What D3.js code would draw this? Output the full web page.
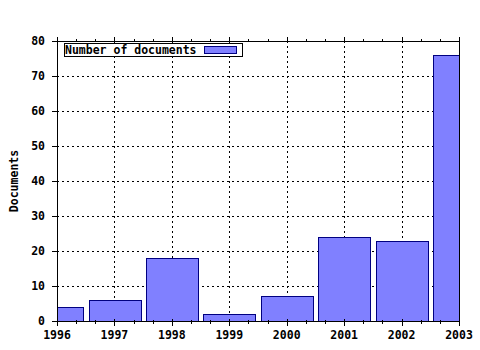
<!DOCTYPE html>
<html><head><meta charset="utf-8">
<script src="https://cdn.jsdelivr.net/npm/d3@7"></script>
<style>
body{margin:0;background:#fff;}
text{font-family:"DejaVu Sans Mono",monospace;font-weight:bold;font-size:11.5px;fill:#000;}
</style></head><body>
<svg id="c" width="480" height="350"></svg>
<script>
const years = [1996, 1997, 1998, 1999, 2000, 2001, 2002, 2003];
const documents = [4, 6, 18, 2, 7, 24, 23, 76];
const yTicks = [0, 10, 20, 30, 40, 50, 60, 70, 80];
const seriesName = "Number of documents";
const yTitle = "Documents";

const svg = d3.select("#c");
const L = 57, R = 459, T = 41, B = 321;
const x = d3.scaleLinear().domain([1996, 2003]).range([L, R]);
const y = d3.scaleLinear().domain([0, 80]).range([B, T]);
const step = x(1997) - x(1996);
const bw = step * 0.9;

svg.append("clipPath").attr("id", "pc").append("rect")
  .attr("x", L).attr("y", T).attr("width", R - L).attr("height", B - T);

// grid
const grid = svg.append("g").attr("stroke", "#000").attr("stroke-width", 1)
  .attr("stroke-dasharray", "2,3").attr("shape-rendering", "crispEdges");
grid.selectAll("line.v").data(years.slice(1, -1)).join("line")
  .attr("x1", d => Math.round(x(d)) + 0.5).attr("x2", d => Math.round(x(d)) + 0.5)
  .attr("y1", T).attr("y2", B);
grid.selectAll("line.h").data(yTicks.slice(1, -1)).join("line")
  .attr("y1", d => Math.round(y(d)) + 0.5).attr("y2", d => Math.round(y(d)) + 0.5)
  .attr("x1", L).attr("x2", R);

// bars
svg.append("g").attr("clip-path", "url(#pc)").selectAll("rect").data(years).join("rect")
  .attr("x", d => Math.round(x(d) - bw / 2) + 0.5)
  .attr("width", Math.round(bw))
  .attr("y", (d, i) => Math.round(y(documents[i])) + 0.5)
  .attr("height", (d, i) => Math.round(y(0)) - Math.round(y(documents[i])))
  .attr("fill", "#8080ff").attr("stroke", "#000080").attr("stroke-width", 1)
  .attr("shape-rendering", "crispEdges");

// frame lines
const frame = svg.append("g").attr("stroke", "#000").attr("shape-rendering", "crispEdges");
frame.append("line").attr("x1", L + 0.5).attr("x2", L + 0.5).attr("y1", T - 4).attr("y2", B);
frame.append("line").attr("x1", R + 0.5).attr("x2", R + 0.5).attr("y1", T - 4).attr("y2", B);
frame.append("line").attr("x1", L).attr("x2", R + 1).attr("y1", T + 0.5).attr("y2", T + 0.5);
frame.append("line").attr("x1", L).attr("x2", R + 1).attr("y1", B + 0.5).attr("y2", B + 0.5);

// minor x ticks (thirds)
const minor = [];
for (let i = 0; i < years.length - 1; i++) { minor.push(years[i] + 1/3, years[i] + 2/3); }
frame.selectAll("line.mb").data(minor).join("line")
  .attr("x1", d => Math.round(x(d)) + 0.5).attr("x2", d => Math.round(x(d)) + 0.5)
  .attr("y1", B - 1).attr("y2", B + 3);
frame.selectAll("line.mt").data(minor).join("line")
  .attr("x1", d => Math.round(x(d)) + 0.5).attr("x2", d => Math.round(x(d)) + 0.5)
  .attr("y1", T - 2).attr("y2", T + 1);
frame.selectAll("line.Mb").data(years).join("line")
  .attr("x1", d => Math.round(x(d)) + 0.5).attr("x2", d => Math.round(x(d)) + 0.5)
  .attr("y1", B - 2).attr("y2", B + 5);
frame.selectAll("line.Mt").data(years).join("line")
  .attr("x1", d => Math.round(x(d)) + 0.5).attr("x2", d => Math.round(x(d)) + 0.5)
  .attr("y1", T - 4).attr("y2", T + 1);
frame.selectAll("line.yt").data(yTicks).join("line")
  .attr("y1", d => Math.round(y(d)) + 0.5).attr("y2", d => Math.round(y(d)) + 0.5)
  .attr("x1", L - 5).attr("x2", L);

// tick labels
svg.append("g").selectAll("text").data(years).join("text")
  .attr("x", d => x(d)).attr("y", B + 18).attr("text-anchor", "middle").text(d => d);
svg.append("g").selectAll("text").data(yTicks).join("text")
  .attr("x", 45).attr("y", d => y(d) + 4).attr("text-anchor", "end").text(d => d);

svg.append("text").attr("transform", `translate(18,${(T + B) / 2}) rotate(-90)`)
  .attr("text-anchor", "middle").text(yTitle);

// legend
const lg = svg.append("g").attr("shape-rendering", "crispEdges");
lg.append("rect").attr("x", 64.5).attr("y", 43.5).attr("width", 178).attr("height", 13)
  .attr("fill", "#fff").attr("stroke", "#000");
lg.append("text").attr("x", 65).attr("y", 54).text(seriesName);
lg.append("rect").attr("x", 204.5).attr("y", 46.5).attr("width", 32).attr("height", 7)
  .attr("fill", "#8080ff").attr("stroke", "#000080");
</script></body></html>
